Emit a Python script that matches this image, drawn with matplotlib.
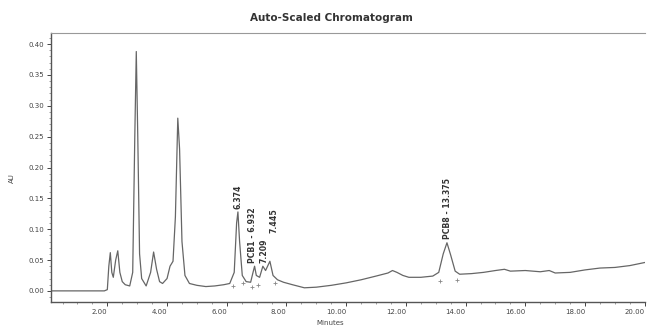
import numpy as np
import matplotlib.pyplot as plt
from matplotlib.ticker import MultipleLocator

# trace: time (min), absorbance (AU)
t = [0.13, 1.9, 2.0, 2.05, 2.1, 2.15, 2.2, 2.28, 2.35, 2.42, 2.5, 2.6, 2.75,
     2.85, 2.92, 2.97, 3.02, 3.08, 3.15, 3.3, 3.45, 3.55, 3.65, 3.75, 3.85,
     4.0, 4.1, 4.2, 4.28, 4.36, 4.42, 4.5, 4.6, 4.75, 5.0, 5.3, 5.6, 5.9,
     6.1, 6.25, 6.33, 6.374, 6.43, 6.52, 6.65, 6.8, 6.88, 6.932, 6.99, 7.1,
     7.209, 7.3, 7.445, 7.55, 7.7, 7.9, 8.2, 8.6, 9.0, 9.5, 10.0, 10.5, 11.0,
     11.4, 11.55, 11.7, 11.9, 12.1, 12.5, 12.9, 13.1, 13.25, 13.375, 13.5,
     13.65, 13.8, 14.2, 14.6, 15.0, 15.3, 15.5, 16.0, 16.5, 16.8, 17.0, 17.5,
     18.0, 18.5, 19.0, 19.5, 20.0]
au = [0.000, 0.000, 0.002, 0.040, 0.062, 0.030, 0.022, 0.050, 0.065, 0.030,
      0.015, 0.010, 0.008, 0.030, 0.250, 0.388, 0.250, 0.060, 0.020, 0.008,
      0.030, 0.063, 0.035, 0.015, 0.012, 0.020, 0.040, 0.048, 0.120, 0.280,
      0.230, 0.080, 0.025, 0.012, 0.009, 0.007, 0.008, 0.010, 0.012, 0.030,
      0.110, 0.128, 0.080, 0.025, 0.015, 0.014, 0.030, 0.040, 0.025, 0.022,
      0.040, 0.033, 0.048, 0.025, 0.018, 0.014, 0.010, 0.005, 0.006, 0.009,
      0.013, 0.018, 0.024, 0.029, 0.033, 0.030, 0.025, 0.022, 0.022, 0.024,
      0.030, 0.060, 0.078, 0.058, 0.032, 0.027, 0.028, 0.030, 0.033, 0.035,
      0.032, 0.033, 0.031, 0.033, 0.029, 0.030, 0.034, 0.037, 0.038, 0.041,
      0.046]

# peak labels
pk_t = [6.374, 6.932, 7.209, 7.445, 13.375]
pk_y = [0.128, 0.040, 0.040, 0.048, 0.078]
pk_lab = ['6.374', 'PCB1 - 6.932', '7.209', '7.445', 'PCB8 - 13.375']
# label shifts so the close ones do not collide (x in min, y in AU)
lab_dx = [0, -0.06, 0.05, 0.13, 0.03]
lab_dy = [0.004, 0.006, 0.005, 0.046, 0.006]

# integration marks
mk_t = [6.22, 6.55, 6.85, 7.05, 7.62, 13.15, 13.7]
mk_y = [0.008, 0.012, 0.006, 0.010, 0.012, 0.016, 0.018]

fig = plt.figure(figsize=(6.48, 3.27), dpi=100)
ax = fig.add_axes([0.079, 0.0765, 0.916, 0.8225])

ax.plot(t, au, color='#666666', lw=0.9)
ax.plot(mk_t, mk_y, ls='none', marker='+', ms=3, mew=0.6, color='#888888')

for x, y, s, dx, dy in zip(pk_t, pk_y, pk_lab, lab_dx, lab_dy):
    ax.text(x + dx, y + dy, s, rotation=90, ha='center', va='bottom',
            fontsize=5.6, fontweight='bold', color='#333333')

ax.set_xlim(0.12, 19.95)
ax.set_ylim(-0.018, 0.418)
ax.xaxis.set_minor_locator(MultipleLocator(0.5))
ax.yaxis.set_minor_locator(MultipleLocator(0.01))
ax.set_xticks(np.arange(2, 20.1, 2))
ax.set_xticklabels(['%.2f' % v for v in np.arange(2, 20.1, 2)])
ax.set_yticks(np.arange(0, 0.401, 0.05))
ax.set_yticklabels(['%.2f' % v for v in np.arange(0, 0.401, 0.05)])
plt.setp(ax.get_xticklabels(), ha='right')

ax.tick_params(which='major', length=3, width=0.7, labelsize=5,
               colors='#444444', pad=2)
ax.tick_params(which='minor', length=1.5, width=0.5, colors='#777777')

for s in ['left', 'bottom']:
    ax.spines[s].set_color('#555555')
    ax.spines[s].set_linewidth(1.0)
ax.spines['top'].set_color('#999999')
ax.spines['top'].set_linewidth(0.8)
ax.spines['right'].set_visible(False)

fig.text(0.511, 0.945, 'Auto-Scaled Chromatogram', ha='center', va='center',
         fontsize=7.5, fontweight='bold', color='#333333')
fig.text(0.019, 0.455, 'AU', rotation=90, ha='center', va='center',
         fontsize=5, color='#444444')
fig.text(0.51, 0.012, 'Minutes', ha='center', va='center',
         fontsize=5, color='#444444')

fig.savefig('out.png', dpi=100)
